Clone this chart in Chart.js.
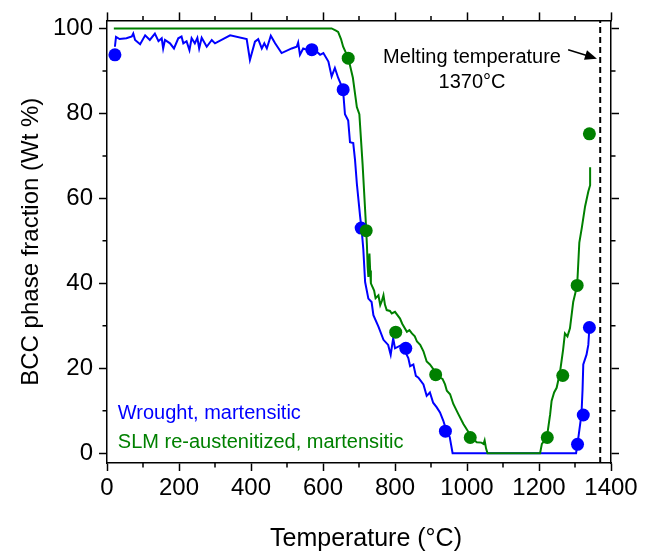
<!DOCTYPE html>
<html>
<head>
<meta charset="utf-8">
<title>BCC phase fraction</title>
<script src="https://cdn.jsdelivr.net/npm/chart.js@4.4.1/dist/chart.umd.min.js"></script>
<style>
    body { margin: 0; background: #fff; }
    #wrap { width: 645px; height: 552px; }
</style>
</head>
<body>
<div id="wrap"><canvas id="phaseChart" width="645" height="552"></canvas></div>
<script>
// Data: [temperature °C, BCC wt %]
const wroughtCurve = [
    [22, 95.7], [25, 98.0], [35, 97.5], [54, 97.7], [69, 98.1], [73, 98.8], [78, 97.3], [92, 96.3],
    [106, 98.4], [119, 97.3], [133, 98.8], [143, 97.0], [152, 97.7], [156, 95.3], [161, 97.3],
    [175, 96.5], [186, 95.3], [198, 97.7], [207, 98.1], [212, 96.5], [221, 97.0], [229, 94.9],
    [235, 97.7], [244, 96.5], [251, 97.8], [256, 95.3], [263, 97.8], [277, 95.7], [291, 97.3],
    [300, 96.5], [342, 98.4], [388, 97.5], [397, 92.6], [411, 96.9], [420, 97.5], [430, 95.3],
    [437, 96.5], [444, 95.3], [455, 98.3], [467, 96.5], [485, 94.2], [513, 95.3], [527, 95.7],
    [531, 96.7], [536, 93.8], [545, 95.3], [559, 94.9], [569, 95.0], [582, 94.6], [592, 93.8],
    [601, 94.2], [615, 92.2], [624, 88.7], [633, 90.7], [642, 88.4], [652, 86.4], [656, 85.2],
    [661, 79.8], [670, 78.3], [675, 73.2], [684, 73.0], [689, 69.0], [694, 63.5], [703, 55.8],
    [708, 52.0], [712, 48.0], [717, 40.3], [726, 36.4], [735, 35.6], [740, 32.5], [754, 29.8],
    [768, 26.7], [781, 25.5], [788, 23.2], [795, 27.1], [800, 24.7], [819, 25.5], [837, 22.4],
    [842, 20.5], [851, 20.9], [858, 18.2], [865, 17.8], [879, 16.2], [888, 13.5], [897, 14.3],
    [906, 11.9], [916, 10.8], [925, 9.6], [934, 7.7], [944, 5.0], [952, 3.8], [960, 0],
    [1303, 0], [1307, 2.2], [1312, 5.4], [1318, 9.2], [1321, 15.0], [1323, 20.9], [1332, 23.2],
    [1337, 25.5], [1340, 29.6]
];
const slmCurve = [
    [19, 100], [624, 100], [636, 99.5], [642, 99.2], [650, 97.5], [656, 95.7], [665, 94.0],
    [672, 92.4], [683, 88.4], [690, 84.0], [694, 81.5], [701, 79.8], [710, 68.0], [719, 54.2],
    [722, 49.0], [724, 44.0], [726, 41.5], [729, 47.0], [731, 43.0], [733, 40.0], [742, 38.3],
    [746, 36.5], [754, 37.2], [759, 34.9], [764, 36.0], [768, 37.2], [772, 35.0], [777, 33.7],
    [786, 33.5], [791, 32.9], [800, 33.3], [814, 31.7], [820, 30.5], [833, 28.6], [840, 29.0],
    [847, 28.2], [855, 27.5], [861, 26.3], [870, 25.5], [879, 24.0], [888, 21.6], [897, 20.9],
    [905, 20.0], [915, 19.0], [925, 17.8], [932, 17.5], [939, 16.2], [944, 14.7], [953, 13.9],
    [962, 11.6], [976, 9.2], [990, 6.9], [1004, 5.0], [1015, 3.5], [1027, 2.6], [1040, 2.5],
    [1046, 2.2], [1049, 3.0], [1053, 1.1], [1057, 0], [1203, 0], [1208, 2.2], [1222, 3.8],
    [1231, 9.2], [1235, 12.3], [1242, 14.3], [1249, 15.4], [1258, 18.9], [1267, 24.4],
    [1272, 28.2], [1279, 27.5], [1286, 29.4], [1295, 35.6], [1306, 39.5], [1312, 49.6],
    [1319, 53.1], [1328, 58.1], [1337, 61.6], [1342, 63.1], [1342, 67.3]
];
const wroughtPoints = [[22, 93.8], [569, 95.0], [656, 85.6], [706, 53.0], [830, 24.7], [940, 5.2], [1307, 2.1], [1323, 9.0], [1340, 29.6]];
const slmPoints = [[670, 93.0], [720, 52.4], [802, 28.5], [913, 18.5], [1009, 3.7], [1223, 3.7], [1266, 18.3], [1306, 39.5], [1340, 75.2]];
const meltingTemp = 1370;

const xTicks = [0, 200, 400, 600, 800, 1000, 1200, 1400];
const yTicks = [0, 20, 40, 60, 80, 100];
const xMinor = [100, 300, 500, 700, 900, 1100, 1300];
const yMinor = [10, 30, 50, 70, 90];
const xRange = [0, 1400];
const yRange = [-2.3, 101.9];

const BLUE = '#0000ff';
const GREEN = '#008000';
const FONT = "'Liberation Sans', Arial, Helvetica, sans-serif";

Chart.defaults.font.family = FONT;
Chart.defaults.color = '#000';

function toXY(pairs) {
    return pairs.map(p => ({ x: p[0], y: p[1] }));
}

function setTicks(values) {
    return scale => { scale.ticks = values.map(v => ({ value: v })); };
}

// frame pieces shared by all four axes
const gridOpts = { display: true, drawOnChartArea: false, drawTicks: true, tickLength: 8, tickColor: '#000', tickWidth: 1.5 };
const borderOpts = { display: true, color: '#000', width: 1.5 };

// minor ticks on all sides, x title, annotation, legend text
const overlay = {
    id: 'overlay',
    afterDraw(chart) {
        const { ctx, chartArea: a, scales: { x, y } } = chart;
        ctx.save();
        ctx.strokeStyle = '#000';
        ctx.lineWidth = 1.5;
        ctx.beginPath();
        xMinor.forEach(v => {
            const px = x.getPixelForValue(v);
            ctx.moveTo(px, a.bottom); ctx.lineTo(px, a.bottom + 4.5);
            ctx.moveTo(px, a.top); ctx.lineTo(px, a.top - 4.5);
        });
        yMinor.forEach(v => {
            const py = y.getPixelForValue(v);
            ctx.moveTo(a.left, py); ctx.lineTo(a.left - 4.5, py);
            ctx.moveTo(a.right, py); ctx.lineTo(a.right + 4.5, py);
        });
        ctx.stroke();

        // x axis title, sits a little right of the plot centre in the original
        ctx.fillStyle = '#000';
        ctx.font = '25px ' + FONT;
        ctx.textAlign = 'center';
        ctx.textBaseline = 'alphabetic';
        ctx.fillText('Temperature (°C)', (a.left + a.right) / 2 + 7, 546);

        // melting temperature note + arrow
        ctx.font = '20px ' + FONT;
        const tx = x.getPixelForValue(1014);
        ctx.fillText('Melting temperature', tx, y.getPixelForValue(91.9));
        ctx.fillText('1370°C', tx, y.getPixelForValue(86.1));

        const x1 = x.getPixelForValue(1281), y1 = y.getPixelForValue(95.0);
        const x2 = x.getPixelForValue(1361), y2 = y.getPixelForValue(92.9);
        const ang = Math.atan2(y2 - y1, x2 - x1);
        ctx.beginPath();
        ctx.moveTo(x1, y1);
        ctx.lineTo(x2 - 9 * Math.cos(ang), y2 - 9 * Math.sin(ang));
        ctx.stroke();
        ctx.beginPath();
        ctx.moveTo(x2, y2);
        ctx.lineTo(x2 - 12 * Math.cos(ang) + 5 * Math.sin(ang), y2 - 12 * Math.sin(ang) - 5 * Math.cos(ang));
        ctx.lineTo(x2 - 12 * Math.cos(ang) - 5 * Math.sin(ang), y2 - 12 * Math.sin(ang) + 5 * Math.cos(ang));
        ctx.closePath();
        ctx.fill();

        // legend text
        ctx.textAlign = 'left';
        ctx.fillStyle = BLUE;
        ctx.fillText('Wrought, martensitic', x.getPixelForValue(30), y.getPixelForValue(8.1));
        ctx.fillStyle = GREEN;
        ctx.fillText('SLM re-austenitized, martensitic', x.getPixelForValue(30), y.getPixelForValue(1.2));
        ctx.restore();
    }
};

new Chart(document.getElementById('phaseChart'), {
    type: 'line',
    data: {
        datasets: [
            {
                label: 'SLM points',
                data: toXY(slmPoints),
                showLine: false,
                pointRadius: 6.5,
                pointBackgroundColor: GREEN,
                pointBorderWidth: 0,
                order: 0
            },
            {
                label: 'Wrought points',
                data: toXY(wroughtPoints),
                showLine: false,
                pointRadius: 6.5,
                pointBackgroundColor: BLUE,
                pointBorderWidth: 0,
                order: 0
            },
            {
                label: 'SLM re-austenitized, martensitic',
                data: toXY(slmCurve),
                borderColor: GREEN,
                borderWidth: 2,
                pointRadius: 0,
                tension: 0,
                order: 1
            },
            {
                label: 'Wrought, martensitic',
                data: toXY(wroughtCurve),
                borderColor: BLUE,
                borderWidth: 2,
                pointRadius: 0,
                tension: 0,
                order: 2
            },
            {
                label: 'Melting temperature',
                data: [{ x: meltingTemp, y: yRange[0] }, { x: meltingTemp, y: yRange[1] }],
                borderColor: '#000',
                borderWidth: 2,
                borderDash: [6, 4],
                pointRadius: 0,
                order: 3
            }
        ]
    },
    options: {
        responsive: false,
        maintainAspectRatio: false,
        animation: false,
        layout: { padding: 0 },
        plugins: {
            legend: { display: false },
            tooltip: { enabled: false }
        },
        scales: {
            x: {
                type: 'linear',
                position: 'bottom',
                min: xRange[0],
                max: xRange[1],
                afterBuildTicks: setTicks(xTicks),
                afterFit: scale => { scale.height = 89; },
                grid: gridOpts,
                border: borderOpts,
                ticks: { font: { size: 24 }, padding: 3, maxRotation: 0, callback: v => String(v) }
            },
            xTop: {
                type: 'linear',
                position: 'top',
                min: xRange[0],
                max: xRange[1],
                afterBuildTicks: setTicks(xTicks),
                afterFit: scale => { scale.height = 15; },
                grid: gridOpts,
                border: borderOpts,
                ticks: { display: false }
            },
            y: {
                type: 'linear',
                position: 'left',
                min: yRange[0],
                max: yRange[1],
                afterBuildTicks: setTicks(yTicks),
                afterFit: scale => { scale.width = 107; },
                grid: gridOpts,
                border: borderOpts,
                ticks: { font: { size: 24 }, padding: 6, callback: v => String(v) },
                title: {
                    display: true,
                    text: 'BCC phase fraction (Wt %)',
                    font: { size: 24 },
                    padding: { top: 17, bottom: 0 }
                }
            },
            yRight: {
                type: 'linear',
                position: 'right',
                min: yRange[0],
                max: yRange[1],
                afterBuildTicks: setTicks(yTicks),
                afterFit: scale => { scale.width = 34; },
                grid: gridOpts,
                border: borderOpts,
                ticks: { display: false }
            }
        }
    },
    plugins: [overlay]
});
</script>
</body>
</html>
